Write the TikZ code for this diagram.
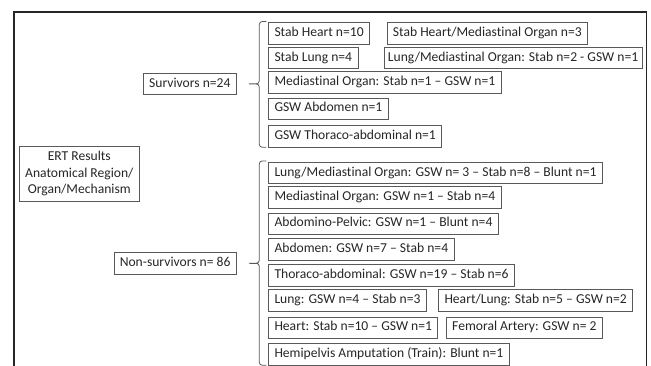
\documentclass[tikz,border=0pt]{standalone}
\usepackage{fontspec}
\setmainfont{Carlito}[Ligatures={TeX,NoCommon}]
\usetikzlibrary{calc}
\tikzset{
    treenode/.style = {text=black!85, font=\fontsize{13.6}{16.3}\selectfont},
    node_box/.style = {treenode, rectangle, draw=black!65, line width=0.8pt, inner xsep=5.8pt, inner ysep=0pt, minimum height=21.5pt, text height=9.6pt, text depth=3pt},
    node_item/.style = {node_box, anchor=north west},
    node_group/.style = {node_box, anchor=east},
    node_root/.style = {treenode, rectangle, draw=black!65, line width=0.8pt, align=center, minimum width=120pt, minimum height=55pt, inner sep=4pt},
    frame_line/.style = {draw=black!85, line width=1.8pt},
    brace_line/.style = {draw=black!65, line width=0.8pt}
}
% bracket from first item (#1) to last item (#2), tip at group node (#3)
\newcommand{\groupbrace}[3]{%
    \draw[brace_line]
        ($(#1.north west)+(-2,-0.8)$) -- ($(#1.north west)+(-6,-0.8)$)
        to[out=180,in=90] ($(#1.north west)+(-9,2.2)$)
        -- ($(#1.north west |- #3.east)+(-9,-3)$)
        to[out=-90,in=0] ($(#1.north west |- #3.east)+(-19.3,0)$)
        to[out=0,in=90] ($(#1.north west |- #3.east)+(-9,3)$)
        -- ($(#2.south west)+(-9,-3)$)
        to[out=-90,in=180] ($(#2.south west)+(-6,0)$)
        -- ($(#2.south west)+(-2,0)$);
}

\begin{document}
\begin{tikzpicture}[x=1pt, y=-1pt]
    \useasboundingbox (0,0) rectangle (651,365);
    \clip (0,0) rectangle (651,365);
    \draw[frame_line] (14,12.3) rectangle (646.5,390);

    \node [node_root] (ert) at (79.3,173.5) {ERT Results\\Anatomical Region/\\Organ/Mechanism}; % ROOT

    % survivors
    \node [node_group] (surv) at (236.7,83.9) {Survivors n=24};
    \node [node_item] (s_heart) at (268.3,22.3) {Stab Heart n=10};
    \node [node_item] (s_heartmed) at (386.7,22.3) {Stab Heart/Mediastinal Organ n=3};
    \node [node_item] (s_lung) at (268.3,46.7) {Stab Lung n=4};
    \node [node_item, inner xsep=4pt] (s_lungmed) at (383.5,46.7) {Lung/Mediastinal Organ: Stab n=2 - GSW n=1};
    \node [node_item] (s_med) at (268.3,71.3) {Mediastinal Organ: Stab n=1 -- GSW n=1};
    \node [node_item] (s_abd) at (268.3,97.5) {GSW Abdomen n=1};
    \node [node_item] (s_thor) at (268.3,125) {GSW Thoraco-abdominal n=1};
    \groupbrace{s_heart}{s_thor}{surv}

    % non-survivors
    \node [node_group] (nonsurv) at (236.7,263.3) {Non-survivors n= 86};
    \node [node_item] (n_lungmed) at (268.3,161.7) {Lung/Mediastinal Organ: GSW n= 3 -- Stab n=8 -- Blunt n=1};
    \node [node_item] (n_med) at (268.3,186.3) {Mediastinal Organ: GSW n=1 -- Stab n=4};
    \node [node_item] (n_abdpel) at (268.3,212.5) {Abdomino-Pelvic: GSW n=1 -- Blunt n=4};
    \node [node_item] (n_abd) at (268.3,238) {Abdomen: GSW n=7 -- Stab n=4};
    \node [node_item] (n_thor) at (268.3,264) {Thoraco-abdominal: GSW n=19 -- Stab n=6};
    \node [node_item] (n_lung) at (268.3,289.3) {Lung: GSW n=4 -- Stab n=3};
    \node [node_item] (n_heartlung) at (438.3,289.3) {Heart/Lung: Stab n=5 -- GSW n=2};
    \node [node_item] (n_heart) at (268.3,316.5) {Heart: Stab n=10 -- GSW n=1};
    \node [node_item] (n_femoral) at (446,316.5) {Femoral Artery: GSW n= 2};
    \node [node_item] (n_pelvis) at (268.3,343) {Hemipelvis Amputation (Train): Blunt n=1};
    \groupbrace{n_lungmed}{n_pelvis}{nonsurv}
\end{tikzpicture}
\end{document}
